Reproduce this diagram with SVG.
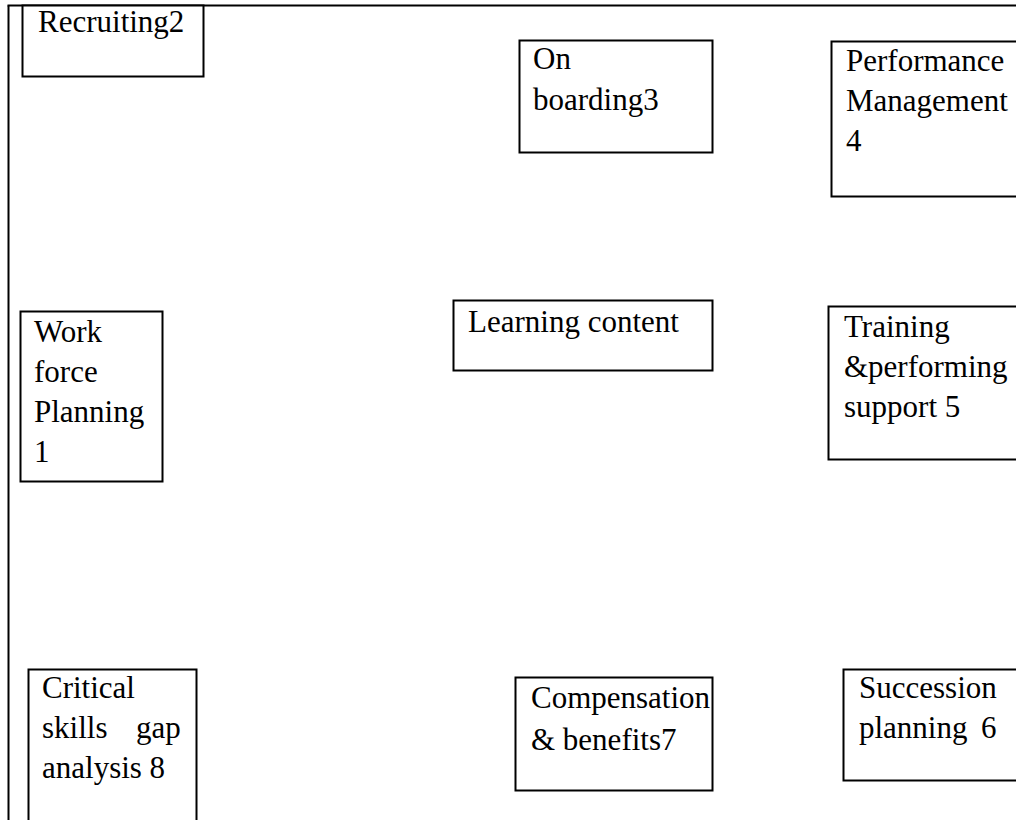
<svg xmlns="http://www.w3.org/2000/svg" width="1016" height="820" viewBox="0 0 1016 820">
<style>
.box{fill:#fff;stroke:#000;stroke-width:2}
.t{font-family:"Liberation Serif","Times New Roman",serif;font-size:31px;fill:#000}
</style>
<rect width="1016" height="820" fill="#fff"/>
<g id="frame">
<line x1="8.5" y1="5.5" x2="8.5" y2="820" stroke="#000" stroke-width="2"/>
<line x1="7.5" y1="5.5" x2="1016" y2="5.5" stroke="#000" stroke-width="2"/>
</g>
<g id="connectors"></g>
<g id="n2"><rect class="box" x="22.5" y="5.5" width="181" height="71"/><text class="t" x="38" y="32">Recruiting2</text></g>
<g id="n3"><rect class="box" x="519.5" y="40.5" width="193" height="112"/><text class="t" x="533" y="69">On</text><text class="t" x="533" y="110">boarding3</text></g>
<g id="n4"><rect class="box" x="831.5" y="41.5" width="200" height="155"/><text class="t" x="846" y="71">Performance</text><text class="t" x="846" y="111">Management</text><text class="t" x="846" y="151">4</text></g>
<g id="n1"><rect class="box" x="20.5" y="311.5" width="142" height="170"/><text class="t" x="34" y="342">Work</text><text class="t" x="34" y="382">force</text><text class="t" x="34" y="422">Planning</text><text class="t" x="34" y="462">1</text></g>
<g id="nLC"><rect class="box" x="453.5" y="300.5" width="259" height="70"/><text class="t" x="468" y="332">Learning content</text></g>
<g id="n5"><rect class="box" x="828.5" y="306.5" width="200" height="153"/><text class="t" x="844" y="337">Training</text><text class="t" x="844" y="377">&amp;performing</text><text class="t" x="844" y="417">support 5</text></g>
<g id="n8"><rect class="box" x="28.5" y="669.5" width="168" height="160"/><text class="t" x="42" y="698">Critical</text><text class="t" x="42" y="738">skills</text><text class="t" x="136" y="738">gap</text><text class="t" x="42" y="778">analysis 8</text></g>
<g id="n7"><rect class="box" x="515.5" y="677.5" width="197" height="113"/><text class="t" x="531" y="708">Compensation</text><text class="t" x="531" y="750">&amp; benefits7</text></g>
<g id="n6"><rect class="box" x="843.5" y="669.5" width="190" height="111"/><text class="t" x="859" y="698">Succession</text><text class="t" x="859" y="738">planning</text><text class="t" x="981" y="738">6</text></g>
</svg>
